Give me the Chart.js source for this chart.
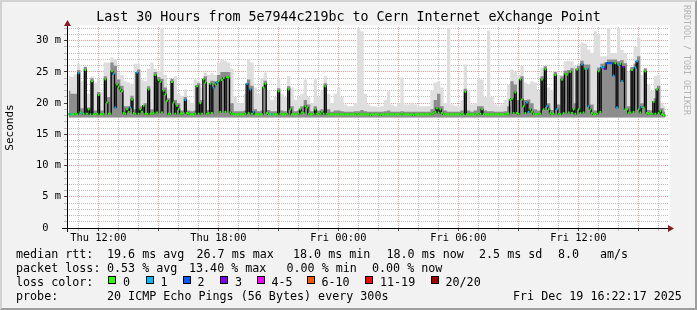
<!DOCTYPE html>
<html>
<head>
<meta charset="utf-8">
<title>Last 30 Hours - smokeping</title>
<script src="https://cdn.jsdelivr.net/npm/chart.js@4.4.1/dist/chart.umd.min.js"></script>
<style>
  body { margin: 0; background: #f2f2f2; }
  #box { position: relative; width: 697px; height: 310px; background: #f2f2f2; font-family: 'DejaVu Sans Mono', monospace; color: #000; overflow: hidden; }
  #box canvas { position: absolute; left: 0; top: 0; }
  #frame { position: absolute; left: 0; top: 0; width: 697px; height: 310px; box-sizing: border-box; border: 2px solid; border-color: #d2d2d2 #9e9e9e #9e9e9e #d2d2d2; pointer-events: none; }
  .t { position: absolute; font-size: 11.7px; line-height: 14px; white-space: pre; }
  .sw { position: absolute; top: 276px; width: 8px; height: 8px; box-sizing: border-box; border: 1px solid #000; }
  #credit { position: absolute; left: 682px; top: 5px; writing-mode: vertical-rl; font-size: 8.3px; line-height: 10px; color: #b4b4b4; }
</style>
</head>
<body>
<div id="box">
  <canvas id="smokeChart" width="697" height="310"></canvas>

  <div class="t" style="top:247px;left:16px">median rtt:</div>
  <div class="t" style="top:247px;left:107px">19.6 ms avg</div>
  <div class="t" style="top:247px;left:196.5px">26.7 ms max</div>
  <div class="t" style="top:247px;left:293px">18.0 ms min</div>
  <div class="t" style="top:247px;left:386.5px">18.0 ms now</div>
  <div class="t" style="top:247px;left:479px">2.5 ms sd</div>
  <div class="t" style="top:247px;left:558px">8.0</div>
  <div class="t" style="top:247px;left:600px">am/s</div>

  <div class="t" style="top:261px;left:16px">packet loss:</div>
  <div class="t" style="top:261px;left:107px">0.53 % avg</div>
  <div class="t" style="top:261px;left:189px">13.40 % max</div>
  <div class="t" style="top:261px;left:286.5px">0.00 % min</div>
  <div class="t" style="top:261px;left:372px">0.00 % now</div>

  <div class="t" style="top:275px;left:16px">loss color:</div>
  <div id="lossLegend"></div>

  <div class="t" style="top:289px;left:16px">probe:</div>
  <div class="t" style="top:289px;left:107px">20 ICMP Echo Pings (56 Bytes) every 300s</div>
  <div class="t" style="top:289px;left:513px">Fri Dec 19 16:22:17 2025</div>

  <div id="credit">RRDTOOL / TOBI OETIKER</div>
  <div id="frame"></div>
</div>
<script>
// chart window, hours counted from Thu 00:00
const chartStart = 10.435;
const chartEnd = 40.485;

// median rtt in ms, one value per 5 minute step (one line = one hour)
const median = [
  18.2, 18.2, 18.2, 18.2, 18.2, 18.3, 18.2, 24.8, 18.5, 18.4, 18.3, 25.3,
  18.3, 19.0, 18.2, 23.5, 18.2, 18.2, 18.3, 21.3, 18.2, 18.2, 18.3, 23.8,
  20.1, 18.3, 18.3, 25.1, 24.7, 19.3, 23.0, 22.6, 22.2, 21.9, 18.4, 18.3,
  19.0, 18.6, 19.3, 20.6, 18.4, 18.3, 24.9, 18.3, 19.0, 18.6, 19.6, 18.3,
  18.3, 22.2, 18.3, 18.3, 18.4, 24.5, 18.5, 23.7, 23.4, 18.5, 22.0, 21.4,
  20.4, 18.3, 18.3, 23.4, 20.1, 18.3, 19.6, 19.0, 18.3, 18.3, 18.4, 20.5,
  18.4, 18.3, 18.2, 18.2, 18.2, 18.3, 22.7, 18.3, 20.0, 18.3, 23.8, 23.3,
  18.3, 18.4, 23.1, 18.4, 22.5, 23.0, 23.3, 23.5, 18.6, 23.7, 24.0, 18.6,
  24.2, 24.1, 18.5, 18.3, 18.2, 18.2, 18.2, 18.2, 18.2, 18.2, 18.2, 18.3,
  23.1, 18.4, 22.2, 18.3, 18.6, 18.2, 18.2, 18.2, 18.2, 18.2, 22.5, 23.1,
  18.4, 18.2, 18.2, 18.2, 18.2, 18.2, 18.2, 21.9, 18.3, 18.2, 18.2, 18.2,
  18.3, 22.2, 19.0, 18.2, 18.2, 18.2, 18.2, 18.3, 19.0, 18.5, 18.4, 19.5,
  19.3, 18.3, 18.2, 18.2, 18.3, 19.0, 18.3, 18.2, 18.3, 18.6, 18.3, 22.7,
  18.3, 18.2, 18.2, 18.2, 18.2, 18.2, 18.2, 18.2, 18.2, 18.2, 18.2, 18.2,
  18.2, 18.2, 18.2, 18.2, 18.2, 18.2, 18.3, 18.2, 18.2, 18.2, 18.2, 18.2,
  18.2, 18.2, 18.1, 18.2, 18.2, 18.2, 18.2, 18.2, 18.1, 18.2, 18.2, 18.2,
  18.2, 18.2, 18.2, 18.2, 18.2, 18.2, 18.2, 18.2, 18.2, 18.3, 18.2, 18.2,
  18.2, 18.2, 18.2, 18.2, 18.1, 18.2, 18.2, 18.2, 18.2, 18.2, 18.2, 18.2,
  18.2, 18.2, 18.2, 18.3, 18.4, 18.6, 19.2, 18.5, 19.0, 18.4, 18.2, 18.2,
  18.2, 18.2, 18.2, 18.2, 18.2, 18.2, 18.2, 18.2, 18.2, 18.3, 18.2, 21.8,
  18.2, 18.2, 18.2, 18.2, 18.2, 18.2, 18.3, 18.2, 18.3, 19.0, 18.2, 18.2,
  18.2, 18.2, 18.2, 18.2, 18.2, 18.2, 18.2, 18.2, 18.2, 18.2, 18.2, 18.2,
  18.3, 18.3, 20.5, 20.7, 18.4, 21.7, 18.4, 18.3, 23.8, 20.6, 19.5, 18.4,
  20.1, 18.6, 19.0, 18.6, 18.3, 18.2, 18.2, 18.3, 18.3, 23.8, 19.0, 25.4,
  19.5, 19.0, 18.4, 18.2, 18.3, 24.5, 19.0, 18.3, 18.2, 23.8, 18.4, 24.7,
  24.6, 18.5, 25.0, 18.4, 19.0, 18.3, 25.4, 19.0, 18.4, 26.2, 18.5, 25.5,
  25.5, 19.5, 19.0, 18.4, 18.2, 18.2, 18.3, 25.1, 18.6, 25.7, 25.8, 25.5,
  26.4, 26.4, 26.4, 26.4, 24.4, 26.4, 19.3, 26.1, 26.3, 23.5, 25.8, 19.0,
  19.0, 18.4, 18.5, 25.3, 18.6, 25.7, 26.7, 19.0, 18.5, 19.4, 19.3, 25.1,
  18.4, 18.3, 18.3, 18.3, 20.2, 18.3, 22.2, 18.4, 18.7, 18.2, 18.1, 18.0
];

// lost pings (of 20) per 5 minute step
const loss = [
  0, 0, 1, 0, 0, 0, 0, 1, 0, 1, 0, 0,
  0, 0, 0, 0, 0, 0, 0, 0, 0, 0, 0, 0,
  0, 0, 0, 0, 1, 1, 0, 0, 0, 0, 0, 0,
  0, 0, 1, 0, 0, 0, 1, 0, 0, 0, 0, 0,
  0, 0, 0, 0, 0, 0, 0, 0, 0, 0, 0, 0,
  0, 0, 0, 0, 0, 0, 0, 0, 0, 0, 0, 1,
  0, 0, 0, 0, 0, 0, 0, 0, 0, 0, 0, 0,
  0, 0, 0, 0, 1, 0, 1, 0, 0, 0, 0, 0,
  0, 0, 0, 0, 0, 0, 0, 0, 0, 0, 0, 0,
  1, 0, 1, 0, 1, 0, 0, 0, 0, 0, 0, 0,
  0, 0, 0, 1, 0, 0, 0, 0, 0, 0, 0, 0,
  0, 0, 0, 0, 0, 0, 0, 0, 0, 0, 0, 0,
  0, 0, 0, 0, 0, 0, 0, 0, 0, 0, 0, 0,
  0, 0, 0, 0, 0, 0, 0, 0, 0, 0, 0, 0,
  0, 0, 0, 0, 0, 0, 0, 0, 0, 0, 0, 0,
  0, 0, 0, 0, 0, 0, 0, 0, 0, 0, 0, 0,
  0, 0, 0, 0, 0, 0, 0, 0, 0, 0, 0, 0,
  0, 0, 0, 0, 0, 0, 0, 0, 0, 0, 0, 0,
  0, 0, 0, 0, 0, 0, 0, 0, 0, 0, 0, 0,
  0, 0, 0, 0, 0, 0, 0, 0, 0, 0, 0, 0,
  0, 0, 0, 0, 0, 0, 0, 0, 0, 0, 0, 0,
  0, 0, 0, 0, 0, 0, 0, 0, 0, 0, 0, 0,
  0, 0, 0, 0, 0, 0, 0, 0, 0, 0, 0, 0,
  1, 1, 0, 0, 0, 0, 0, 0, 0, 0, 0, 0,
  1, 0, 0, 0, 0, 0, 1, 0, 0, 0, 0, 0,
  0, 0, 0, 0, 0, 0, 0, 0, 0, 1, 0, 0,
  1, 1, 0, 0, 0, 0, 0, 0, 0, 1, 1, 3,
  2, 2, 2, 2, 1, 0, 1, 1, 0, 1, 3, 0,
  0, 0, 0, 0, 0, 1, 1, 0, 0, 1, 0, 0,
  0, 0, 0, 0, 0, 0, 0, 0, 0, 0, 0, 0
];

// top of the light smoke (slowest pings), one value per 10 minutes
const smokeLight = [
  24.4, 24.2, 24.6, 26.3, 23.5, 25.9,
  21.5, 24.3, 23.3, 23.8, 21.8, 26.5,
  26.5, 27.3, 27.0, 24.9, 24.5, 23.5,
  23.3, 23.0, 26.3, 26.3, 23.8, 23.5,
  25.5, 26.5, 25.5, 25.1, 32.0, 24.5,
  22.2, 22.5, 24.3, 21.5, 21.2, 22.2,
  20.5, 20.0, 23.8, 23.5, 22.5, 24.9,
  24.5, 24.8, 24.5, 26.5, 27.0, 26.8,
  26.5, 25.5, 21.0, 20.0, 20.0, 21.5,
  27.0, 26.5, 22.5, 21.5, 24.0, 24.9,
  22.0, 20.5, 21.0, 23.8, 21.5, 21.0,
  24.3, 22.5, 20.5, 21.0, 21.5, 23.8,
  21.0, 20.0, 23.8, 21.0, 22.0, 24.3,
  21.5, 20.0, 21.5, 22.5, 21.0, 19.8,
  19.5, 19.5, 20.0, 32.0, 31.5, 21.5,
  19.8, 19.5, 19.5, 19.3, 19.5, 20.5,
  21.9, 19.8, 19.5, 20.0, 24.1, 19.8,
  19.8, 20.0, 19.8, 19.5, 19.5, 19.5,
  19.5, 22.0, 23.3, 23.5, 22.5, 20.0,
  32.0, 19.8, 19.6, 19.5, 20.5, 26.2,
  22.0, 19.8, 20.0, 23.8, 23.8, 21.0,
  31.6, 21.0, 19.8, 19.5, 19.8, 20.5,
  23.0, 25.4, 25.0, 24.5, 26.0, 23.3,
  23.0, 23.5, 23.3, 22.0, 25.7, 25.9,
  22.5, 22.0, 25.1, 24.5, 24.5, 26.7,
  26.8, 26.7, 26.0, 26.3, 29.7, 29.5,
  28.6, 28.0, 31.5, 31.0, 27.5, 27.5,
  32.0, 28.0, 28.0, 32.0, 28.5, 28.0,
  25.0, 25.8, 29.0, 30.5, 24.5, 25.4,
  23.0, 22.0, 24.3, 24.5, 20.0, 19.5
];

// top of the dark smoke close to the median, one value per 10 minutes
const smokeDark = [
  22.0, 21.5, 21.5, 25.3, 19.2, 25.8,
  19.3, 24.0, 18.8, 21.8, 18.8, 24.3,
  21.0, 26.5, 26.0, 23.8, 22.8, 19.5,
  19.5, 21.2, 19.0, 25.4, 19.5, 20.0,
  22.7, 19.0, 25.0, 24.2, 23.9, 22.5,
  20.8, 23.9, 20.5, 20.0, 18.8, 21.0,
  18.8, 18.7, 18.8, 23.2, 20.5, 24.3,
  18.9, 23.6, 23.5, 24.5, 25.0, 25.0,
  25.0, 20.0, 18.7, 18.7, 18.7, 18.8,
  23.8, 22.8, 19.0, 18.7, 18.8, 23.6,
  18.9, 18.7, 18.7, 22.4, 18.8, 18.7,
  22.7, 19.5, 18.7, 18.8, 19.5, 20.5,
  19.8, 18.7, 19.5, 18.8, 19.0, 23.2,
  19.0, 18.6, 18.8, 18.8, 18.7, 18.6,
  18.6, 18.6, 18.7, 18.7, 18.9, 18.7,
  18.6, 18.6, 18.6, 18.6, 18.6, 18.7,
  18.8, 18.6, 18.6, 18.6, 18.7, 18.6,
  18.6, 18.6, 18.6, 18.6, 18.6, 18.6,
  18.6, 19.0, 20.5, 21.5, 19.5, 18.8,
  18.6, 18.6, 18.6, 18.6, 18.8, 22.3,
  18.8, 18.6, 18.8, 19.5, 19.5, 18.8,
  18.7, 18.7, 18.6, 18.6, 18.6, 18.7,
  19.5, 23.5, 23.0, 20.5, 24.3, 20.5,
  20.6, 20.0, 19.0, 18.8, 24.3, 25.9,
  20.0, 18.9, 25.0, 19.8, 24.3, 25.2,
  25.3, 25.6, 20.0, 26.0, 26.8, 26.2,
  26.2, 19.8, 18.8, 25.7, 26.3, 26.5,
  27.0, 27.0, 27.0, 26.7, 26.9, 26.4,
  19.5, 25.8, 26.3, 27.5, 20.0, 25.6,
  18.9, 18.8, 20.8, 22.8, 19.2, 18.6
];

const xLabelHours = [12, 18, 24, 30, 36];
const xLabels = ['Thu 12:00', 'Thu 18:00', 'Fri 00:00', 'Fri 06:00', 'Fri 12:00'];
const yLabelValues = [0, 5, 10, 15, 20, 25, 30];
const yLabels = ['0  ', '5 m', '10 m', '15 m', '20 m', '25 m', '30 m'];

const lossLabels = ['0', '1', '2', '3', '4-5', '6-10', '11-19', '20/20'];
const lossColors = ['#26ff00', '#00b8ff', '#0059ff', '#7e00ff', '#ff00ff', '#ff5500', '#ff0000', '#a10000'];

const minorGrid = 'rgba(150,150,150,0.6)';
const majorGrid = 'rgba(222,80,80,0.55)';
const monoFont = 'DejaVu Sans Mono';

function lossColor(n) {
  if (n <= 3) return lossColors[n];
  if (n <= 5) return lossColors[4];
  if (n <= 10) return lossColors[5];
  if (n <= 19) return lossColors[6];
  return lossColors[7];
}

// turn a list of values into x/y points, first one at t0, spaced by dt hours
function toPoints(values, t0, dt) {
  return values.map((v, i) => ({ x: t0 + i * dt, y: v }));
}

// loss colour legend
const legendBox = document.getElementById('lossLegend');
const swatchX = [108, 145.5, 182.5, 220, 256.5, 306.5, 365, 430.5];
lossLabels.forEach((label, i) => {
  const sw = document.createElement('div');
  sw.className = 'sw';
  sw.style.left = swatchX[i] + 'px';
  sw.style.background = lossColors[i];
  legendBox.appendChild(sw);
  const txt = document.createElement('div');
  txt.className = 't';
  txt.style.top = '275px';
  txt.style.left = (swatchX[i] + 15) + 'px';
  txt.textContent = label;
  legendBox.appendChild(txt);
});

// white canvas, axis lines and the two red arrows
const rrdFrame = {
  id: 'rrdFrame',
  beforeDraw(chart) {
    const { ctx, chartArea: a } = chart;
    ctx.save();
    ctx.fillStyle = '#ffffff';
    ctx.fillRect(a.left, a.top - 2, a.right - a.left + 2, a.bottom - a.top + 2);
    ctx.restore();
  },
  afterDraw(chart) {
    const { ctx, chartArea: a } = chart;
    const x0 = Math.round(a.left) + 0.5;
    const y0 = Math.round(a.bottom) + 0.5;
    ctx.save();
    ctx.strokeStyle = '#000';
    ctx.lineWidth = 1;
    ctx.beginPath();
    ctx.moveTo(a.left - 5, y0);
    ctx.lineTo(a.right + 2, y0);
    ctx.moveTo(x0, a.bottom + 4);
    ctx.lineTo(x0, a.top - 2);
    ctx.stroke();
    ctx.fillStyle = '#8b1c1c';
    ctx.beginPath();
    ctx.moveTo(x0 - 3.5, a.top - 1);
    ctx.lineTo(x0 + 3.5, a.top - 1);
    ctx.lineTo(x0, a.top - 7);
    ctx.closePath();
    ctx.fill();
    ctx.beginPath();
    ctx.moveTo(a.right, y0 - 3.5);
    ctx.lineTo(a.right, y0 + 3.5);
    ctx.lineTo(a.right + 6, y0);
    ctx.closePath();
    ctx.fill();
    ctx.restore();
  }
};

const ctx = document.getElementById('smokeChart').getContext('2d');

const smokeChart = new Chart(ctx, {
  type: 'line',
  data: {
    datasets: [
      {
        label: 'median rtt',
        data: toPoints(median, chartStart, 5 / 60),
        stepped: 'middle',
        borderColor: '#000000',
        borderWidth: 1.3,
        pointStyle: 'line',
        pointRadius: 0.9,
        pointBorderWidth: 2,
        pointBorderColor: (c) => lossColor(loss[c.dataIndex]),
        pointBackgroundColor: (c) => lossColor(loss[c.dataIndex]),
        order: 0
      },
      {
        label: 'smoke dark',
        data: toPoints(smokeDark, chartStart + 1 / 12, 10 / 60),
        stepped: 'middle',
        borderColor: 'rgba(0,0,0,0)',
        borderWidth: 0,
        pointRadius: 0,
        fill: { value: 17.7 },
        backgroundColor: '#8d8d8d',
        order: 1
      },
      {
        label: 'smoke',
        data: toPoints(smokeLight, chartStart + 1 / 12, 10 / 60),
        stepped: 'middle',
        borderColor: 'rgba(0,0,0,0)',
        borderWidth: 0,
        pointRadius: 0,
        fill: { value: 17.7 },
        backgroundColor: '#dedede',
        order: 2
      }
    ]
  },
  options: {
    responsive: false,
    animation: false,
    events: [],
    layout: { padding: { left: 0, right: 0, top: 0, bottom: 62 } },
    plugins: {
      legend: { display: false },
      tooltip: { enabled: false },
      title: {
        display: true,
        text: 'Last 30 Hours from 5e7944c219bc to Cern Internet eXchange Point',
        color: '#000',
        font: { family: monoFont, size: 13.3, weight: 'normal' },
        padding: { top: 10, bottom: 1 }
      }
    },
    scales: {
      x: {
        type: 'linear',
        min: chartStart,
        max: chartEnd,
        offset: false,
        z: 1,
        afterBuildTicks: (s) => {
          const ticks = [];
          for (let h = 11; h <= 40; h++) ticks.push({ value: h });
          s.ticks = ticks;
        },
        afterFit: (s) => { s.height = 20; },
        grid: {
          color: (c) => (c.tick.value % 3 === 0 ? majorGrid : minorGrid),
          tickColor: (c) => (c.tick.value % 3 === 0 ? '#555' : minorGrid),
          tickLength: 3,
          lineWidth: 1
        },
        border: { display: false, dash: [1, 1] },
        ticks: {
          autoSkip: false,
          maxRotation: 0,
          minRotation: 0,
          padding: 1,
          color: '#000',
          font: { family: monoFont, size: 10.4 },
          callback: (value) => {
            const i = xLabelHours.indexOf(value);
            return i >= 0 ? xLabels[i] : '';
          }
        }
      },
      y: {
        type: 'linear',
        min: 0,
        max: 32.2,
        z: 1,
        afterBuildTicks: (s) => {
          const ticks = [];
          for (let v = 0; v <= 32; v++) ticks.push({ value: v });
          s.ticks = ticks;
        },
        afterFit: (s) => { s.width = 67; },
        grid: {
          color: (c) => (c.tick.value % 5 === 0 ? majorGrid : minorGrid),
          tickColor: (c) => (c.tick.value % 5 === 0 ? '#444' : minorGrid),
          tickLength: 3,
          lineWidth: 1
        },
        border: { display: false, dash: [1, 1] },
        ticks: {
          autoSkip: false,
          padding: 3,
          color: '#000',
          font: { family: monoFont, size: 10.4 },
          callback: (value) => {
            const i = yLabelValues.indexOf(value);
            return i >= 0 ? yLabels[i] : '';
          }
        },
        title: {
          display: true,
          text: 'Seconds',
          color: '#000',
          font: { family: monoFont, size: 11, weight: 'normal' },
          padding: { top: 3.5, bottom: 0 }
        }
      },
      right: {
        type: 'linear',
        position: 'right',
        display: true,
        afterFit: (s) => { s.width = 29; },
        grid: { display: false, drawTicks: false },
        border: { display: false },
        ticks: { display: false }
      }
    }
  },
  plugins: [rrdFrame]
});
</script>
</body>
</html>
